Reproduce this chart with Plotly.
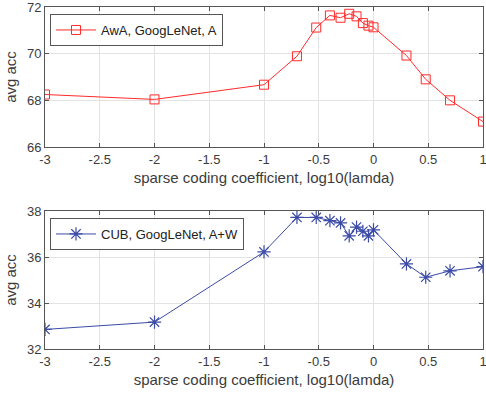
import plotly.graph_objects as go

# Data
x_vals = [-3, -2, -1, -0.699, -0.523, -0.398, -0.301, -0.222, -0.155, -0.097, -0.046, 0, 0.301, 0.477, 0.699, 1]
awa_acc = [68.25, 68.04, 68.67, 69.89, 71.12, 71.64, 71.54, 71.71, 71.6, 71.31, 71.2, 71.13, 69.92, 68.9, 68.0, 67.09]
cub_acc = [32.85, 33.17, 36.22, 37.72, 37.72, 37.58, 37.48, 36.92, 37.3, 37.12, 36.92, 37.18, 35.7, 35.12, 35.4, 35.58]
awa_name = "AwA, GoogLeNet, A"
cub_name = "CUB, GoogLeNet, A+W"
x_ticks = [-3, -2.5, -2, -1.5, -1, -0.5, 0, 0.5, 1]
x_tick_text = ["-3", "-2.5", "-2", "-1.5", "-1", "-0.5", "0", "0.5", "1"]
awa_yticks = [66, 68, 70, 72]
cub_yticks = [32, 34, 36, 38]

red = "#ff2a2a"
blue = "#3b4ba6"
axis_col = "#555555"
txt_col = "#3c3c3c"
font_fam = "Liberation Sans, Arial, sans-serif"

fig = go.Figure()
fig.add_trace(go.Scatter(x=x_vals, y=awa_acc, mode="lines+markers", name=awa_name,
                         line=dict(color=red, width=1),
                         marker=dict(symbol="square-open", size=9, color=red, line=dict(width=1, color=red)),
                         xaxis="x", yaxis="y", legend="legend"))
fig.add_trace(go.Scatter(x=x_vals, y=cub_acc, mode="lines+markers", name=cub_name,
                         line=dict(color=blue, width=1),
                         marker=dict(symbol="asterisk-open", size=11, color=blue, line=dict(width=1.2, color=blue)),
                         xaxis="x2", yaxis="y2", legend="legend2"))

common_x = dict(range=[-3, 1], tickvals=x_ticks, ticktext=x_tick_text, showgrid=True, automargin=False,
                ticklabeloverflow="allow",
                gridcolor="#e3e3e3", gridwidth=1, zeroline=False, showline=True, linecolor=axis_col,
                linewidth=1, mirror="ticks", ticks="inside", ticklen=4, tickcolor=axis_col,
                tickfont=dict(size=13, color=txt_col, family=font_fam),
                title=dict(text="sparse coding coefficient, log10(lamda)",
                           font=dict(size=15, color=txt_col, family=font_fam), standoff=6))
common_y = dict(showgrid=True, gridcolor="#e3e3e3", gridwidth=1, zeroline=False, showline=True, automargin=False,
                ticklabeloverflow="allow",
                linecolor=axis_col, linewidth=1, mirror="ticks", ticks="inside", ticklen=4,
                tickcolor=axis_col, tickfont=dict(size=13, color=txt_col, family=font_fam),
                title=dict(text="avg acc", font=dict(size=15, color=txt_col, family=font_fam), standoff=6))

fig.update_layout(
    width=486, height=396,
    margin=dict(l=45, r=3, t=7, b=47),
    paper_bgcolor="white", plot_bgcolor="white",
    font=dict(family=font_fam, color=txt_col),
    xaxis=dict(domain=[0, 1], anchor="y", **common_x),
    yaxis=dict(domain=[0.5906, 1], anchor="x", range=[66, 72], tickvals=awa_yticks, **common_y),
    xaxis2=dict(domain=[0, 1], anchor="y2", **common_x),
    yaxis2=dict(domain=[0, 0.4035], anchor="x2", range=[32, 38], tickvals=cub_yticks, **common_y),
    legend=dict(x=0.0114, y=0.9795, xanchor="left", yanchor="top", bgcolor="white",
                bordercolor="#555555", borderwidth=1, itemwidth=40,
                font=dict(size=13, color="#222222", family=font_fam)),
    legend2=dict(x=0.0114, y=0.383, xanchor="left", yanchor="top", bgcolor="white",
                 bordercolor="#555555", borderwidth=1, itemwidth=40,
                 font=dict(size=13, color="#222222", family=font_fam)),
    showlegend=True,
)

fig.write_html("out.html")
